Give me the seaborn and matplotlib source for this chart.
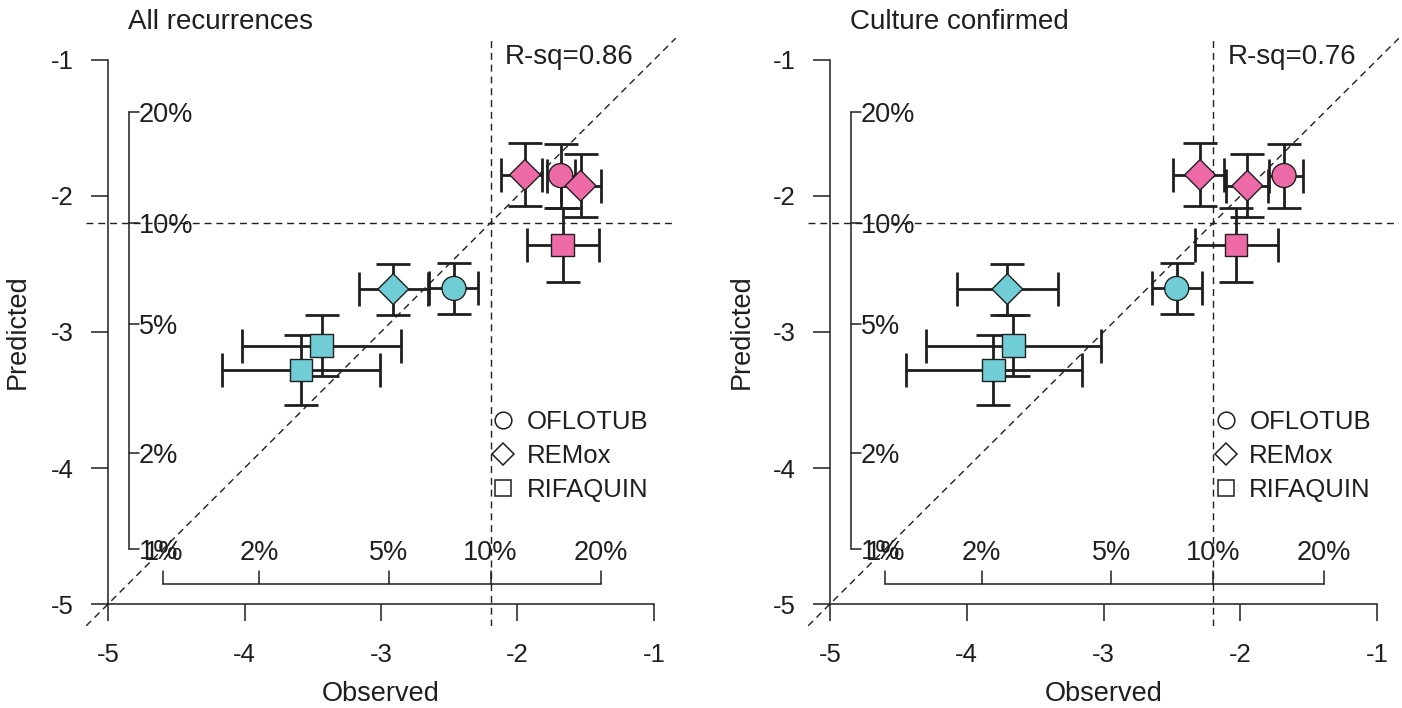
import numpy as np
import pandas as pd
import matplotlib.pyplot as plt
import seaborn as sns
from matplotlib.lines import Line2D

# one row per study arm (logit scale)
trials = ["OFLOTUB", "REMox", "REMox", "RIFAQUIN",
          "OFLOTUB", "REMox", "RIFAQUIN", "RIFAQUIN"]
arms = ["4-month", "4-month", "4-month", "4-month",
        "6-month", "6-month", "6-month", "6-month"]

# predicted values are the same in both panels
pred = [-1.85, -1.845, -1.925, -2.36, -2.68, -2.685, -3.10, -3.28]
pred_lo = [-2.085, -2.075, -2.155, -2.63, -2.865, -2.875, -3.325, -3.54]
pred_hi = [-1.615, -1.61, -1.69, -2.09, -2.495, -2.50, -2.875, -3.02]

# observed, all recurrences
obs_all = [-1.683, -1.945, -1.537, -1.669, -2.465, -2.910, -3.434, -3.586]
obs_all_lo = [-1.786, -2.117, -1.684, -1.933, -2.646, -3.161, -4.016, -4.163]
obs_all_hi = [-1.579, -1.823, -1.390, -1.400, -2.287, -2.653, -2.853, -3.005]

# observed, culture confirmed
obs_cc = [-1.680, -2.294, -1.948, -2.031, -2.465, -3.703, -3.660, -3.806]
obs_cc_lo = [-1.788, -2.490, -2.104, -2.331, -2.643, -4.073, -4.300, -4.446]
obs_cc_hi = [-1.543, -2.119, -1.795, -1.722, -2.277, -3.331, -3.018, -3.159]

panel_titles = ["All recurrences", "Culture confirmed"]
rsq_labels = ["R-sq=0.86", "R-sq=0.76"]

main_ticks = [-5, -4, -3, -2, -1]
pct_ticks = [1, 2, 5, 10, 20]
cutoff_pct = 10

markers = {"OFLOTUB": "o", "REMox": "D", "RIFAQUIN": "s"}
marker_sizes = {"OFLOTUB": 300, "REMox": 245, "RIFAQUIN": 268}
palette = {"4-month": "#EE6AA7", "6-month": "#70CCD5"}
ink = "#1f1f1f"


def logit(p):
    p = np.asarray(p, dtype=float)
    return np.log(p / (1 - p))


sns.set_style("ticks")
plt.rcParams["font.family"] = ["Liberation Sans", "DejaVu Sans"]
plt.rcParams["axes.unicode_minus"] = False

fig = plt.figure(figsize=(14.02, 7.08), dpi=100)
rects = [[0.0615, 0.1161, 0.4205, 0.8300], [0.5764, 0.1161, 0.4214, 0.8300]]
ylab_x = [-0.1157, -0.112]

obs_sets = [(obs_all, obs_all_lo, obs_all_hi), (obs_cc, obs_cc_lo, obs_cc_hi)]
cut = float(logit(cutoff_pct / 100))
pct_pos = logit(np.array(pct_ticks) / 100)
inner = -4.85
dash = (0, (5, 3.5))

for k, rect in enumerate(rects):
    ax = fig.add_axes(rect)
    ax.set_xlim(-5.16, -0.84)
    ax.set_ylim(-5.16, -0.84)
    obs, lo, hi = [np.array(a) for a in obs_sets[k]]
    p, plo, phi = np.array(pred), np.array(pred_lo), np.array(pred_hi)

    # reference lines
    ax.axvline(cut, ls=dash, lw=1.0, color=ink, zorder=1)
    ax.axhline(cut, ls=dash, lw=1.0, color=ink, zorder=1)
    ax.axline((-5, -5), slope=1, ls=dash, lw=1.0, color=ink, zorder=1)

    ax.errorbar(obs, p, xerr=[obs - lo, hi - obs], yerr=[p - plo, phi - p],
                fmt="none", ecolor=ink, elinewidth=2.0, capsize=12.5,
                capthick=2.0, zorder=3)

    df = pd.DataFrame({"obs": obs, "pred": p, "trial": trials, "arm": arms})
    sns.scatterplot(data=df, x="obs", y="pred", hue="arm", style="trial",
                    size="trial", sizes=marker_sizes, markers=markers,
                    palette=palette, edgecolor=ink, linewidth=1.0,
                    legend=False, zorder=4, ax=ax)

    # main axes in R style
    sns.despine(ax=ax)
    ax.spines["left"].set_position(("data", -5))
    ax.spines["bottom"].set_position(("data", -5))
    ax.spines["left"].set_bounds(-5, -1)
    ax.spines["bottom"].set_bounds(-5, -1)
    for s in ("left", "bottom"):
        ax.spines[s].set_linewidth(1.1)
        ax.spines[s].set_color(ink)
    ax.set_xticks(main_ticks)
    ax.set_yticks(main_ticks)
    ax.tick_params(length=12, width=1.1, labelsize=18.5, color=ink,
                   labelcolor=ink)
    ax.tick_params(axis="y", pad=12.5)
    ax.tick_params(axis="x", pad=16)
    ax.set_xlabel("")
    ax.set_ylabel("")

    # inner percentage axes
    ax.plot([inner, inner], [pct_pos[0], pct_pos[-1]], color=ink, lw=1.1)
    ax.plot([pct_pos[0], pct_pos[-1]], [inner, inner], color=ink, lw=1.1)
    for v, pc in zip(pct_pos, pct_ticks):
        ax.plot([inner, inner + 0.075], [v, v], color=ink, lw=1.1)
        ax.text(inner + 0.075, v - 0.02, f"{pc}%", ha="left", va="center",
                fontsize=19.5, color=ink)
        ax.plot([v, v], [inner, inner + 0.093], color=ink, lw=1.1)
        ax.text(v, inner + 0.228, f"{pc}%", ha="center", va="center",
                fontsize=19.5, color=ink)

    ax.text(-2.095, -0.975, rsq_labels[k], ha="left", va="center",
            fontsize=20, color=ink)
    ax.text(-4.853, -0.72, panel_titles[k], ha="left", va="center",
            fontsize=20, color=ink, clip_on=False)
    ax.text(0.5, -0.1161, "Observed", transform=ax.transAxes, ha="center",
            va="center", fontsize=19.5, color=ink)
    ax.text(ylab_x[k], 0.5, "Predicted", transform=ax.transAxes,
            ha="center", va="center", rotation=90, fontsize=19.5, color=ink)

    handles = [Line2D([], [], marker=markers[t], ls="none", mfc="white",
                      mec=ink, mew=1.1, ms=12 if t != "REMox" else 11,
                      label=t) for t in markers]
    ax.legend(handles=handles, loc="upper left", bbox_to_anchor=(0.688, 0.367),
              frameon=False, fontsize=18.5, handlelength=0.9,
              handletextpad=0.45, labelspacing=0.38, borderpad=0,
              borderaxespad=0, labelcolor=ink)

fig.savefig("out.png", dpi=100)
